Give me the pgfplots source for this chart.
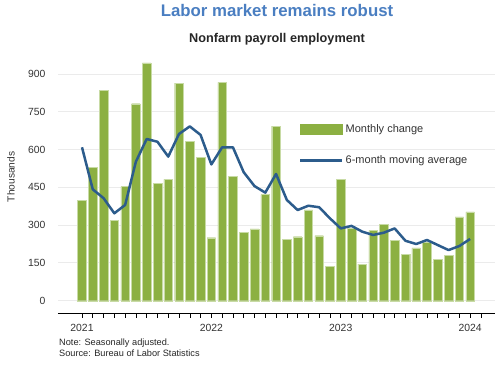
\documentclass[border=0pt]{standalone}
\usepackage{pgfplots}
\pgfplotsset{compat=1.18}
\usepackage{pgfplotstable}
\usepackage{fontspec}
\setmainfont{Liberation Sans}
\definecolor{barGreen}{RGB}{140,176,66}
\definecolor{barEdge}{RGB}{200,219,165}
\definecolor{lineBlue}{RGB}{44,92,140}
\definecolor{titleBlue}{RGB}{74,126,193}
\definecolor{gridGray}{RGB}{235,235,235}
\definecolor{txt}{RGB}{51,51,51}

\pgfplotstableread{
x y
0 398
1 528
2 835
3 318
4 453
5 782
6 944
7 466
8 482
9 864
10 633
11 568
12 250
13 867
14 494
15 271
16 285
17 421
18 693
19 243
20 254
21 361
22 258
23 135
24 483
25 287
26 145
27 278
28 304
29 239
30 183
31 210
32 234
33 163
34 181
35 333
36 353
}\monthly

\pgfplotstableread{
x y
0 609
1 442
2 407
3 347
4 380
5 552
6 642
7 631
8 572
9 662
10 692
11 658
12 541
13 609
14 609
15 510
16 455
17 429
18 503
19 400
20 360
21 377
22 371
23 327
24 287
25 297
26 274
27 261
28 270
29 287
30 238
31 225
32 241
33 221
34 201
35 217
36 245
}\movavg

\begin{document}
\begin{tikzpicture}[x=1pt,y=1pt]
\path[use as bounding box] (0,0) rectangle (500,365);
\begin{axis}[
  at={(58pt,51.3pt)}, anchor=south west,
  scale only axis, width=437pt, height=254.7pt,
  xmin=-2.226, xmax=38.31, ymin=-51.6, ymax=959.5,
  axis x line*=bottom, axis y line*=left,
  x axis line style={black, line width=1.3pt},
  y axis line style={draw=none},
  ytick={0,150,300,450,600,750,900},
  ymajorgrids, grid style={gridGray, line width=0.9pt},
  ytick style={draw=none},
  xtick={0,12,24,36}, xticklabels={2021,2022,2023,2024},
  minor xtick={1,...,37},
  xtick style={black, line width=0.6pt},
  tick align=outside, major tick length=4pt, minor tick length=4pt,
  ticklabel style={font=\fontsize{10.4}{12}\selectfont, text=txt},
  /pgf/number format/assume math mode=true,
  yticklabel style={xshift=-5pt},
  xticklabel style={yshift=-3pt},
  ylabel={Thousands},
  ylabel style={at={(rel axis cs:-0.0984,0.537)}, anchor=south, inner sep=0pt, font=\fontsize{10.2}{12}\selectfont, text=txt},
  legend style={at={(rel axis cs:0.5515,0.752)}, anchor=north west, draw=none, fill=none,
    font=\fontsize{11}{12}\selectfont, text=txt, row sep=18pt, inner sep=0pt,
    /tikz/every even column/.append style={column sep=0pt}},
  legend cell align=left,
]
\addplot[ybar, bar width=8.6pt, fill=barGreen, draw=barEdge, line width=0.4pt,
  legend image code/.code={\fill[barGreen] (0pt,-5pt) rectangle (42pt,5pt);}]
  table[x=x,y=y] {\monthly};
\addlegendentry{Monthly change}
\addplot[lineBlue, line width=2.5pt, line join=round, mark=none,
  legend image code/.code={\path (0pt,0pt) -- (42pt,0pt); \draw[lineBlue, line width=2.5pt] (4pt,0pt) -- (38pt,0pt);}]
  table[x=x,y=y] {\movavg};
\addlegendentry{6-month moving average}
\end{axis}
\node[anchor=base, font=\bfseries\fontsize{16.8}{20}\selectfont, text=titleBlue] at (277,348.3) {Labor market remains robust};
\node[anchor=base, font=\bfseries\fontsize{12.7}{15}\selectfont, text=black!85] at (277,322.3) {Nonfarm payroll employment};
\node[anchor=base west, inner sep=0pt, font=\fontsize{9.2}{11}\selectfont, text=black!85] at (59,19.2) {Note: Seasonally adjusted.};
\node[anchor=base west, inner sep=0pt, font=\fontsize{9.2}{11}\selectfont, text=black!85] at (59,8.7) {Source: Bureau of Labor Statistics};
\end{tikzpicture}
\end{document}
